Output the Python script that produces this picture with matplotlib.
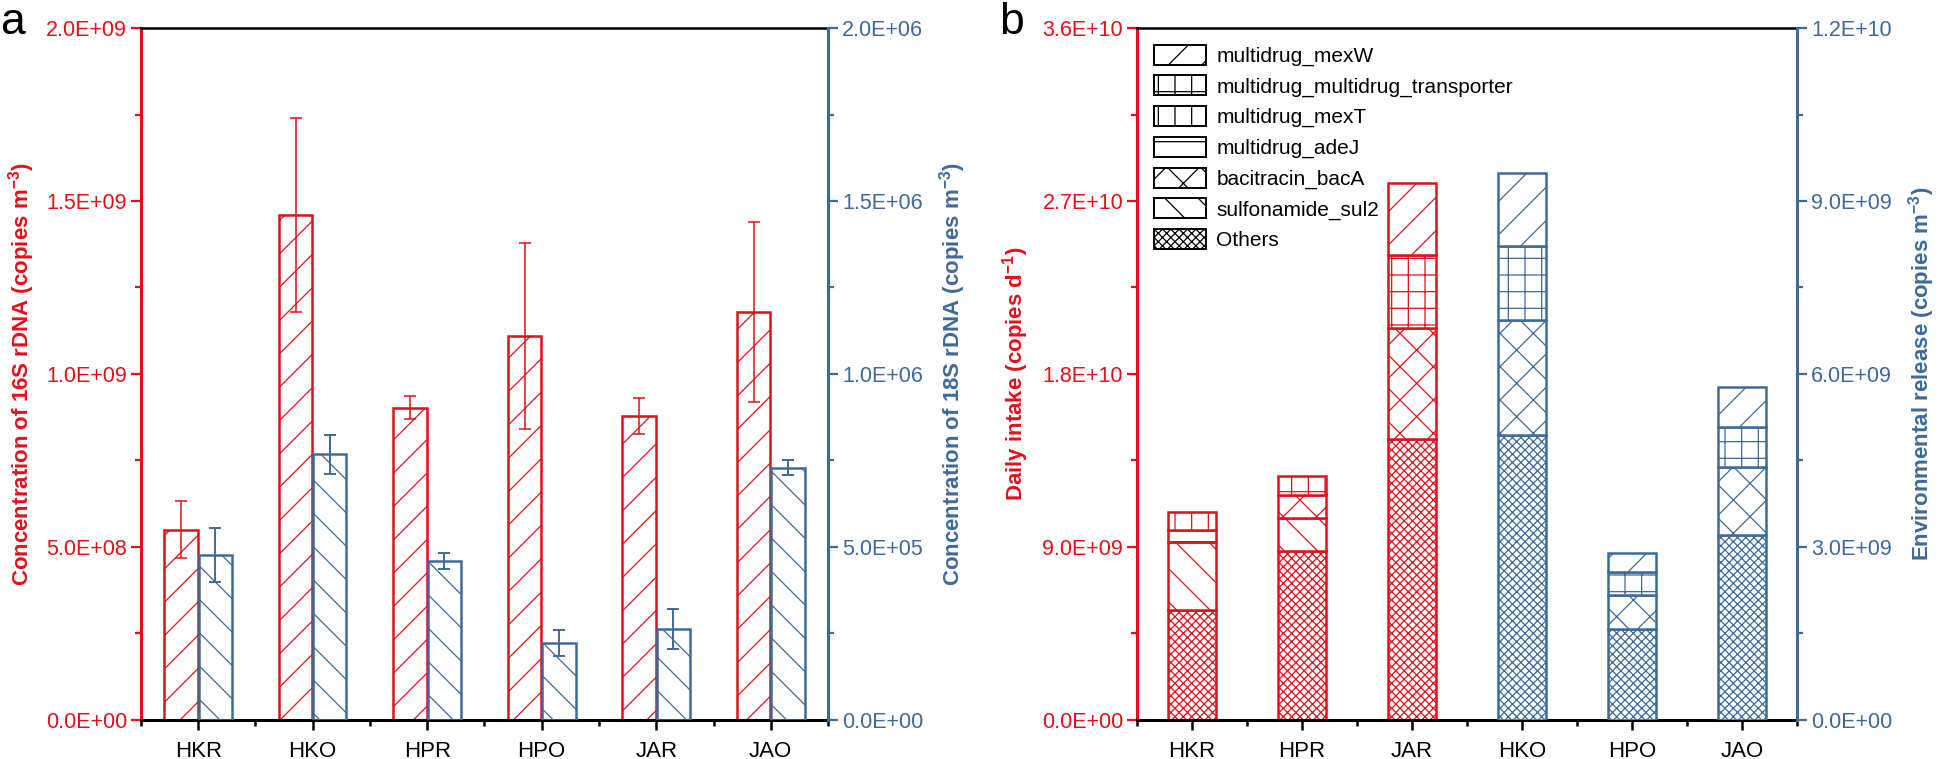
import numpy as np
import matplotlib
matplotlib.use('Agg')
import matplotlib.pyplot as plt
from matplotlib.ticker import FuncFormatter, MultipleLocator
from matplotlib.patches import Patch

plt.rcParams['font.family'] = ['Liberation Sans', 'DejaVu Sans']
plt.rcParams['hatch.linewidth'] = 0.9

RED = '#E3101A'
BLUE = '#3D6A99'

# ---- panel a data ----
sites_a = ['HKR', 'HKO', 'HPR', 'HPO', 'JAR', 'JAO']
rdna16 = [5.50e8, 1.46e9, 9.03e8, 1.11e9, 8.79e8, 1.18e9]
rdna16_err = [0.83e8, 2.80e8, 0.34e8, 2.70e8, 0.51e8, 2.60e8]
rdna18 = [4.77e5, 7.68e5, 4.60e5, 2.23e5, 2.64e5, 7.29e5]
rdna18_err = [0.78e5, 0.56e5, 0.23e5, 0.37e5, 0.58e5, 0.21e5]

# ---- panel b data ----
intake_sites = ['HKR', 'HPR', 'JAR']
release_sites = ['HKO', 'HPO', 'JAO']
# stacking order, bottom to top
genes = ['Others', 'sulfonamide_sul2', 'bacitracin_bacA', 'multidrug_adeJ',
         'multidrug_mexT', 'multidrug_multidrug_transporter', 'multidrug_mexW']
hatches = ['xxxx', '\\', 'x', '-', '|', '+', '/']
# daily intake (copies d-1), rows follow genes
intake = [
    [5.73e9, 8.80e9, 14.63e9],
    [3.52e9, 1.73e9, 0],
    [0, 1.15e9, 5.77e9],
    [0.64e9, 0, 0],
    [0.92e9, 0, 0],
    [0, 1.00e9, 3.78e9],
    [0, 0, 3.74e9],
]
# environmental release (copies m-3), rows follow genes
release = [
    [4.94e9, 1.58e9, 3.21e9],
    [0, 0, 0],
    [2.00e9, 0.58e9, 1.17e9],
    [0, 0, 0],
    [0, 0, 0],
    [1.28e9, 0.40e9, 0.70e9],
    [1.27e9, 0.33e9, 0.70e9],
]

fmt = FuncFormatter(lambda v, p: f'{v:.1E}')


def style_axes(ax, ax2, ncat):
    ax.spines['right'].set_visible(False)
    ax.spines['left'].set_color(RED)
    ax.spines['left'].set_linewidth(2.2)
    ax.spines['bottom'].set_linewidth(2.2)
    ax.spines['top'].set_linewidth(1.8)
    for s in ['left', 'bottom', 'top']:
        ax2.spines[s].set_visible(False)
    ax2.spines['right'].set_color(BLUE)
    ax2.spines['right'].set_linewidth(2.2)
    ax.tick_params(axis='y', which='both', colors=RED, width=1.6, labelsize=15.5, pad=3)
    ax.tick_params(axis='y', which='major', length=7)
    ax.tick_params(axis='y', which='minor', length=4)
    ax2.tick_params(axis='y', which='both', colors=BLUE, width=1.6, labelsize=15.5, pad=3)
    ax2.tick_params(axis='y', which='major', length=7)
    ax2.tick_params(axis='y', which='minor', length=4)
    ax.tick_params(axis='x', which='both', width=1.8, labelsize=16, pad=8)
    ax.tick_params(axis='x', which='major', length=7)
    ax.tick_params(axis='x', which='minor', length=4)
    ax.set_xlim(-0.5, ncat - 0.5)
    ax.set_xticks(np.arange(-0.5, ncat, 1), minor=True)
    ax.yaxis.set_major_formatter(fmt)
    ax2.yaxis.set_major_formatter(fmt)


fig = plt.figure(figsize=(19.52, 7.59), dpi=100)

# ---------------- panel a ----------------
ax = fig.add_axes([0.0722, 0.0514, 0.3520, 0.9117])
ax2 = ax.twinx()
x = np.arange(len(sites_a))
w = 0.29
ax.bar(x - 0.15, rdna16, w, facecolor='none', edgecolor=RED, hatch='/', linewidth=1.8)
ax.errorbar(x - 0.15, rdna16, yerr=rdna16_err, fmt='none', ecolor=RED, elinewidth=1.1, capsize=4.5, capthick=1.1)
ax2.bar(x + 0.15, rdna18, w, facecolor='none', edgecolor=BLUE, hatch='\\', linewidth=1.8)
ax2.errorbar(x + 0.15, rdna18, yerr=rdna18_err, fmt='none', ecolor=BLUE, elinewidth=1.4, capsize=4.5, capthick=1.4)
ax.set_ylim(0, 2.0e9)
ax2.set_ylim(0, 2.0e6)
ax.yaxis.set_major_locator(MultipleLocator(5e8))
ax.yaxis.set_minor_locator(MultipleLocator(2.5e8))
ax2.yaxis.set_major_locator(MultipleLocator(5e5))
ax2.yaxis.set_minor_locator(MultipleLocator(2.5e5))
ax.set_xticks(x)
ax.set_xticklabels(sites_a)
style_axes(ax, ax2, len(sites_a))
ax.set_ylabel('Concentration of 16S rDNA (copies m$^{\\mathregular{-3}}$)', color=RED,
              fontsize=16, fontweight='bold', labelpad=6)
ax2.set_ylabel('Concentration of 18S rDNA (copies m$^{\\mathregular{-3}}$)', color=BLUE,
               fontsize=16, fontweight='bold', labelpad=10)

# ---------------- panel b ----------------
bx = fig.add_axes([0.5825, 0.0514, 0.3381, 0.9117])
bx2 = bx.twinx()
wb = 0.43
xi = np.arange(len(intake_sites))
xr = np.arange(len(release_sites)) + len(intake_sites)
bot_i = np.zeros(len(intake_sites))
bot_r = np.zeros(len(release_sites))
for g, h, vi, vr in zip(genes, hatches, intake, release):
    vi = np.array(vi)
    vr = np.array(vr)
    m = vi > 0
    bx.bar(xi[m], vi[m], wb, bottom=bot_i[m], facecolor='white', edgecolor=RED, hatch=h, linewidth=1.8)
    m = vr > 0
    bx2.bar(xr[m], vr[m], wb, bottom=bot_r[m], facecolor='white', edgecolor=BLUE, hatch=h, linewidth=1.8)
    bot_i += vi
    bot_r += vr
bx.set_ylim(0, 3.6e10)
bx2.set_ylim(0, 1.2e10)
bx.yaxis.set_major_locator(MultipleLocator(9e9))
bx.yaxis.set_minor_locator(MultipleLocator(4.5e9))
bx2.yaxis.set_major_locator(MultipleLocator(3e9))
bx2.yaxis.set_minor_locator(MultipleLocator(1.5e9))
bx.set_xticks(np.concatenate([xi, xr]))
bx.set_xticklabels(intake_sites + release_sites)
style_axes(bx, bx2, 6)
bx.set_ylabel('Daily intake (copies d$^{\\mathregular{-1}}$)', color=RED,
              fontsize=16, fontweight='bold', labelpad=8)
bx2.set_ylabel('Environmental release (copies m$^{\\mathregular{-3}}$)', color=BLUE,
               fontsize=16, fontweight='bold', labelpad=10)

handles = [Patch(facecolor='white', edgecolor='black', hatch=h, linewidth=1.4, label=g)
           for g, h in zip(genes[::-1], hatches[::-1])]
bx2.legend(handles=handles, loc='upper left', frameon=False, fontsize=15,
           handlelength=2.5, handleheight=1.1, labelspacing=0.45, handletextpad=0.5,
           borderaxespad=0.4)

fig.text(0.0, 0.955, 'a', fontsize=32, ha='left')
fig.text(0.512, 0.955, 'b', fontsize=32, ha='left')

fig.savefig('out.png', dpi=100)
